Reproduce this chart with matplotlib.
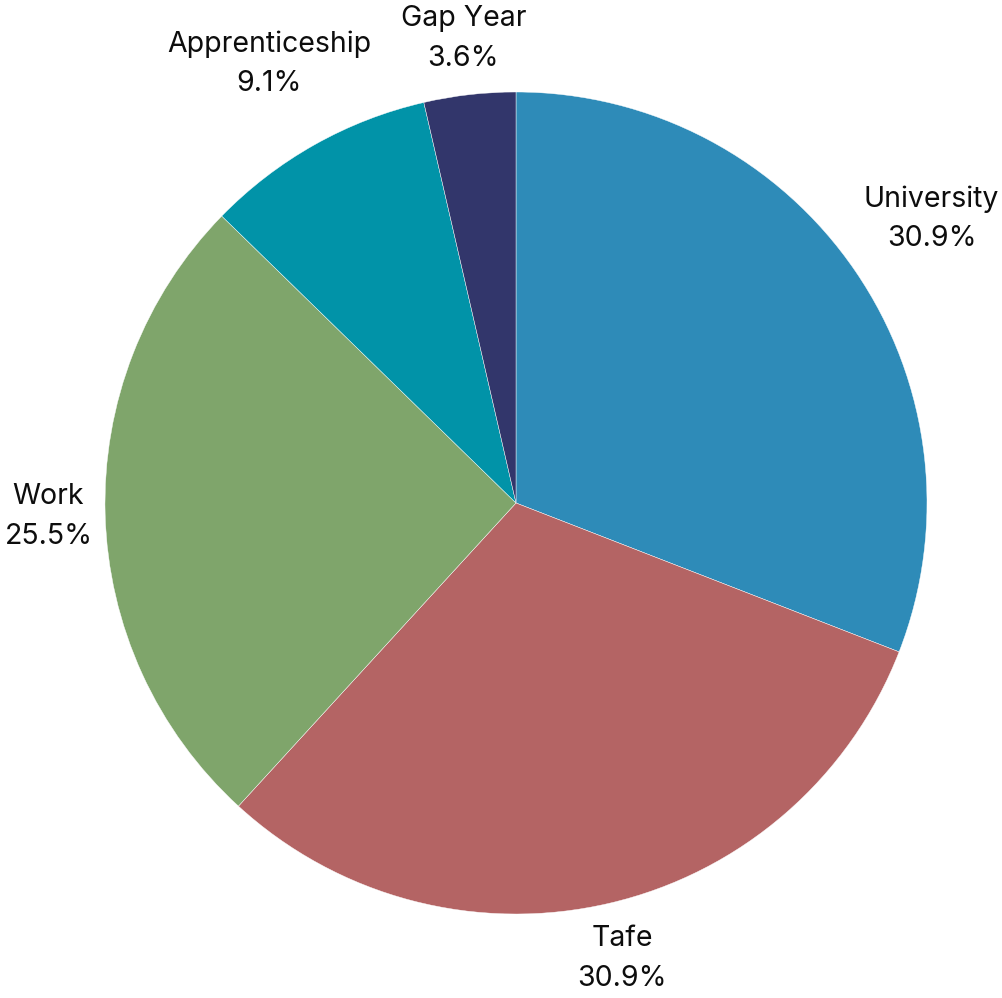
import numpy as np
import matplotlib
matplotlib.use("Agg")
import matplotlib.pyplot as plt

# Post-school destinations
categories = ["University", "Tafe", "Work", "Apprenticeship", "Gap Year"]
shares = [30.9, 30.9, 25.5, 9.1, 3.6]
colors = ["#2E8BB8", "#B46464", "#7FA56B", "#0193A8", "#32366B"]

# radial position of each label centre, in units of the pie radius
label_dist = [1.225, 1.138, 1.138, 1.226, 1.137]

plt.rcParams["font.family"] = ["Inter", "DejaVu Sans"]

fig = plt.figure(figsize=(10.02, 9.98), dpi=100)
ax = fig.add_axes([0, 0, 1, 1])

R = 411.0
cx, cy = 516.0, 998 - 503.0

wedges, _ = ax.pie(
    shares,
    colors=colors,
    startangle=90,
    counterclock=False,
    radius=1.0,
    center=(0, 0),
    wedgeprops=dict(edgecolor="white", linewidth=0.3),
    frame=True,
)
ax.set_axis_off()
ax.set_xlim(-cx / R, (1002 - cx) / R)
ax.set_ylim(-cy / R, (998 - cy) / R)

for w, name, val, d in zip(wedges, categories, shares, label_dist):
    mid = np.deg2rad((w.theta1 + w.theta2) / 2)
    x, y = d * np.cos(mid), d * np.sin(mid)
    ax.text(x, y, f"{name}\n{val:.1f}%", ha="center", va="center",
            multialignment="center", fontsize=20.5, linespacing=1.6,
            color="#0d0d0d")

fig.savefig("out.png", dpi=100)
